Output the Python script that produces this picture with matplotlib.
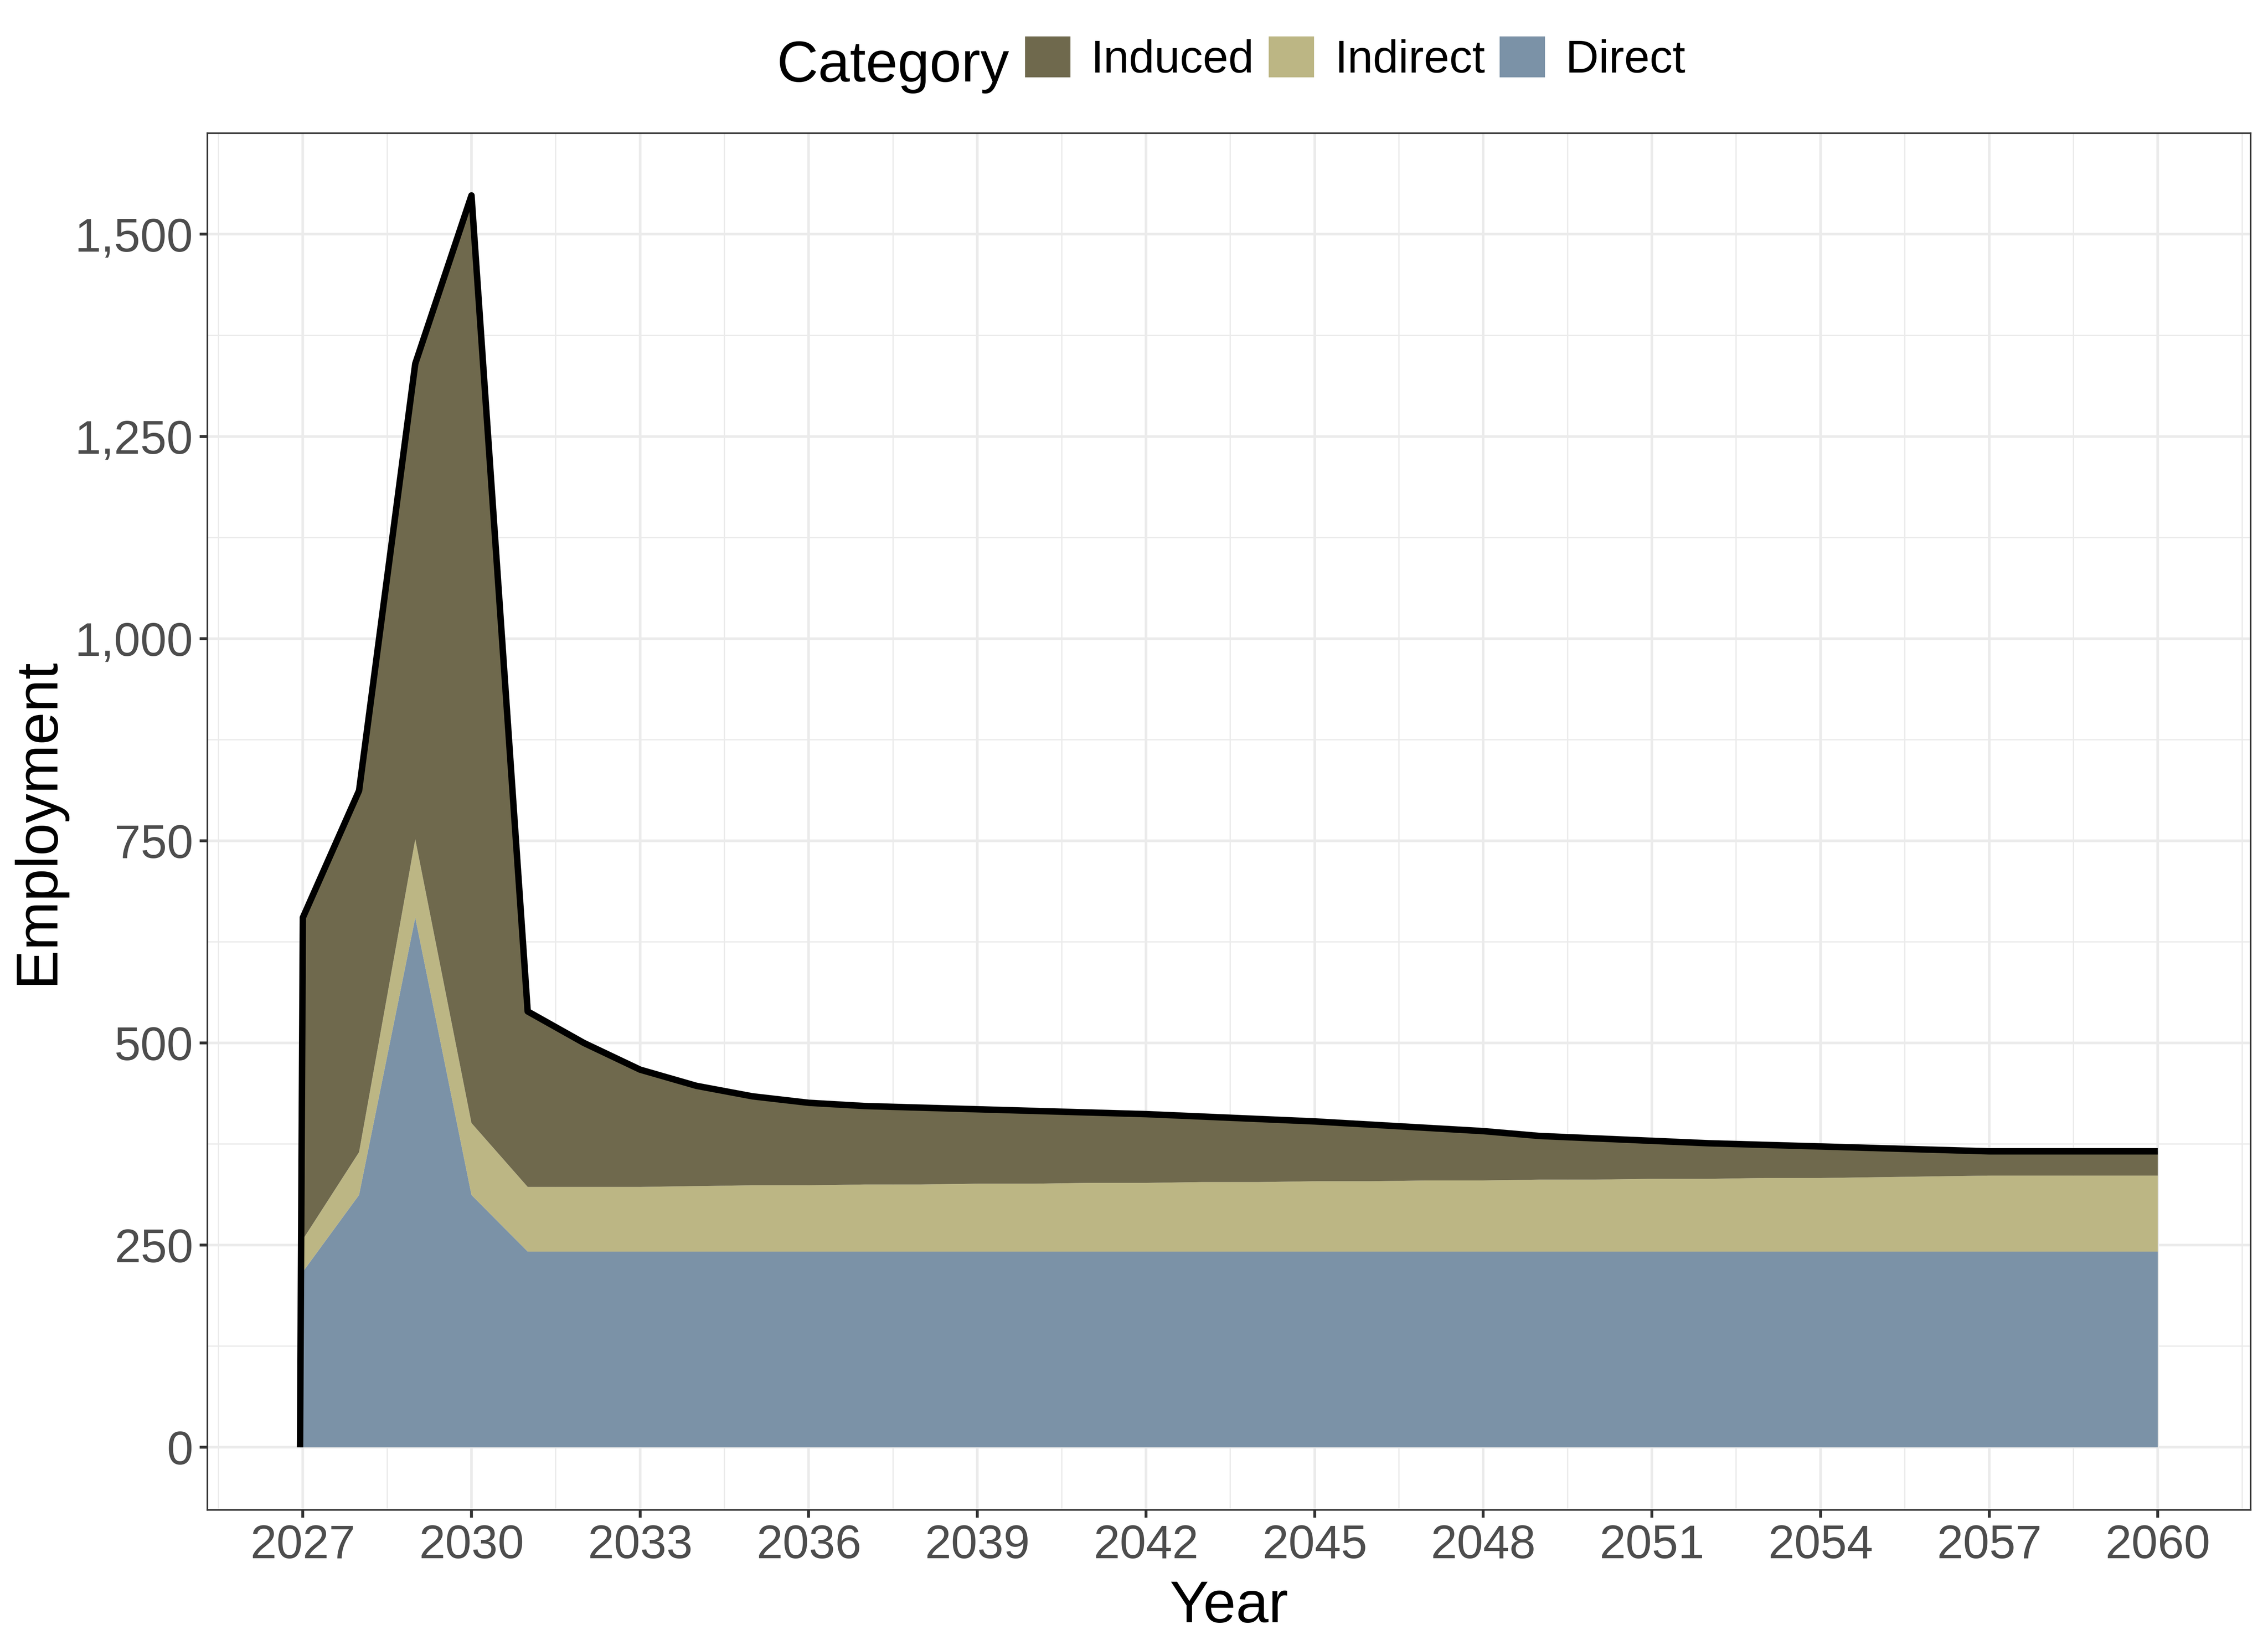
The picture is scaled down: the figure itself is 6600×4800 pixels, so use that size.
import numpy as np
import matplotlib
matplotlib.use("Agg")
import matplotlib.pyplot as plt
from matplotlib.patches import Patch
from matplotlib.ticker import FixedLocator, FuncFormatter

plt.rcParams['font.family'] = ['Liberation Sans', 'DejaVu Sans']

# years (first point is the zero start of the series)
years = [2026.95] + list(range(2027, 2061))

direct = [0, 217, 312, 655, 312] + [242] * 30
indirect = [0, 40, 53, 97, 89, 80, 80, 80, 81, 82, 82, 83, 83, 84, 84, 85, 85,
            86, 86, 87, 87, 88, 88, 89, 89, 90, 90, 91, 91, 92, 93, 94, 94, 94, 94]
induced = [0, 398, 447, 588, 1147, 217, 178, 145, 124, 110, 102, 97, 95, 92, 90,
           87, 85, 81, 78, 74, 70, 65, 61, 54, 51, 47, 44, 41, 39, 36, 33, 30, 30, 30, 30]

categories = ["Induced", "Indirect", "Direct"]
colors = {"Induced": "#6F694D", "Indirect": "#BCB684", "Direct": "#7B92A7"}

x_ticks = list(range(2027, 2061, 3))
y_ticks = [0, 250, 500, 750, 1000, 1250, 1500]

total = np.array(direct) + np.array(indirect) + np.array(induced)

fig = plt.figure(figsize=(22, 16), dpi=300)
ax = fig.add_axes([0.0914, 0.0851, 0.9009, 0.8342])

ax.stackplot(years, direct, indirect, induced,
             colors=[colors["Direct"], colors["Indirect"], colors["Induced"]],
             linewidth=0, zorder=2)
ax.plot(years, total, color="black", linewidth=4.5, solid_capstyle="butt",
        solid_joinstyle="round", zorder=3)

ax.set_xlim(2025.3, 2061.65)
ax.set_ylim(-77, 1625)

ax.xaxis.set_major_locator(FixedLocator(x_ticks))
ax.xaxis.set_minor_locator(FixedLocator(np.arange(2025.5, 2062, 3)))
ax.yaxis.set_major_locator(FixedLocator(y_ticks))
ax.yaxis.set_minor_locator(FixedLocator(np.arange(125, 1626, 250)))
ax.yaxis.set_major_formatter(FuncFormatter(lambda v, p: f"{v:,.0f}"))

ax.grid(which="major", color="#EBEBEB", linewidth=1.8, zorder=0)
ax.grid(which="minor", color="#EBEBEB", linewidth=0.9, zorder=0)
ax.set_axisbelow(True)

ax.tick_params(which="major", length=5.4, width=2, color="#333333",
               labelsize=33, labelcolor="#4D4D4D", pad=4.5)
ax.tick_params(which="minor", length=0)
for s in ax.spines.values():
    s.set_color("#333333")
    s.set_linewidth(1.1)

ax.set_xlabel("Year", fontsize=41, labelpad=8)
ax.set_ylabel("Employment", fontsize=41, labelpad=7)

handles = [Patch(facecolor=colors[c], edgecolor="none") for c in categories]
fig.legend(handles, categories, loc="center left", bbox_to_anchor=(0.452, 0.9640),
           ncol=3, frameon=False, fontsize=32, handlelength=0.99, handleheight=0.99,
           handletextpad=0.45, columnspacing=0.32, borderpad=0, borderaxespad=0)
fig.text(0.3425, 0.9506, "Category", fontsize=40, ha="left", va="baseline")

fig.savefig("out.png", dpi=300)
